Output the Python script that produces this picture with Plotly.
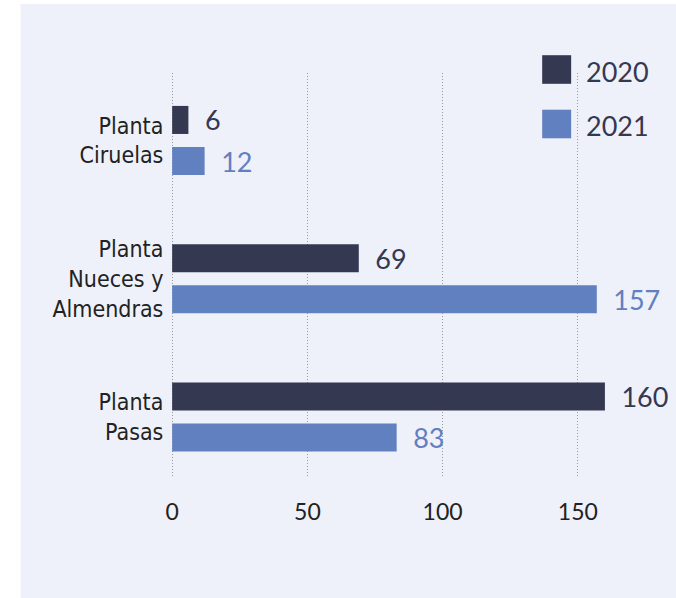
import plotly.graph_objects as go

categories = ["Planta<br>Ciruelas", "Planta<br>Nueces y<br>Almendras", "Planta<br>Pasas"]
series_names = ["2020", "2021"]
values_2020 = [6, 69, 160]
values_2021 = [12, 157, 83]
x_ticks = [0, 50, 100, 150]

DARK = "#343851"
BLUE = "#6180C0"
PANEL = "#EEF1F9"
FONT = "DejaVu Sans Condensed, Liberation Sans, sans-serif"
NUMFONT = "Lato, DejaVu Sans Condensed, sans-serif"

W, H = 676, 598
scale = 2.7067
x_min, x_max = -0.8, 180
L = 171.7 + x_min * scale
plot_w = (x_max - x_min) * scale
R = W - L - plot_w
T = 73
B = H - 477
plot_h = H - T - B


def px(xs):
    return (xs - L) / plot_w


def py(ys):
    return 1 - (ys - T) / plot_h


fig = go.Figure()
for name, vals, col in [(series_names[0], values_2020, DARK), (series_names[1], values_2021, BLUE)]:
    fig.add_trace(go.Bar(
        name=name, y=categories, x=vals, orientation="h",
        marker=dict(color=col, line=dict(width=0)),
        texttemplate="\u2002%{x}", textposition="outside",
        textfont=dict(family=NUMFONT, size=27, color=col),
        constraintext="none", cliponaxis=False,
        showlegend=False, hoverinfo="skip",
    ))

shapes = [
    dict(type="rect", xref="paper", yref="paper", x0=px(20), x1=px(680), y0=py(602), y1=py(4),
         fillcolor=PANEL, line=dict(width=0), layer="below"),
    dict(type="rect", xref="x", yref="paper", x0=140, x1=165, y0=py(187), y1=1.01,
         fillcolor=PANEL, line=dict(width=0), layer="between"),
]
annotations = []
leg_cols = [DARK, BLUE]
leg_y = [69.5, 124]
for name, col, yc in zip(series_names, leg_cols, leg_y):
    shapes.append(dict(type="rect", xref="paper", yref="paper", x0=px(542), x1=px(571),
                       y0=py(yc + 14.3), y1=py(yc - 14.3), fillcolor=col, line=dict(width=0)))
    annotations.append(dict(xref="paper", yref="paper", x=px(584), y=py(yc + 1.5), text=name,
                            showarrow=False, xanchor="left", yanchor="middle",
                            font=dict(family=NUMFONT, size=27, color=DARK)))

fig.update_layout(
    width=W, height=H,
    margin=dict(l=L, r=R, t=T, b=B, pad=0),
    paper_bgcolor="white", plot_bgcolor="rgba(0,0,0,0)",
    barmode="group", bargap=0.406, bargroupgap=0.317,
    shapes=shapes, annotations=annotations,
    showlegend=False,
    xaxis=dict(range=[x_min, x_max], tickvals=x_ticks, showgrid=True, gridcolor="#999999",
               griddash="1px,2px", gridwidth=1, zeroline=False, showline=False,
               ticks="outside", ticklen=14, tickcolor="rgba(0,0,0,0)",
               tickfont=dict(family=NUMFONT, size=23, color="#222222")),
    yaxis=dict(categoryorder="array", categoryarray=categories, range=[2.434, -0.488],
               showgrid=False, zeroline=False, showline=False,
               ticks="outside", ticklen=1, tickcolor="rgba(0,0,0,0)",
               tickfont=dict(family=FONT, size=23, color="#222222")),
)

fig.write_html(
    "out.html",
    config={"displayModeBar": False},
    post_script="document.body.style.margin='0';document.body.style.overflow='hidden';",
)
